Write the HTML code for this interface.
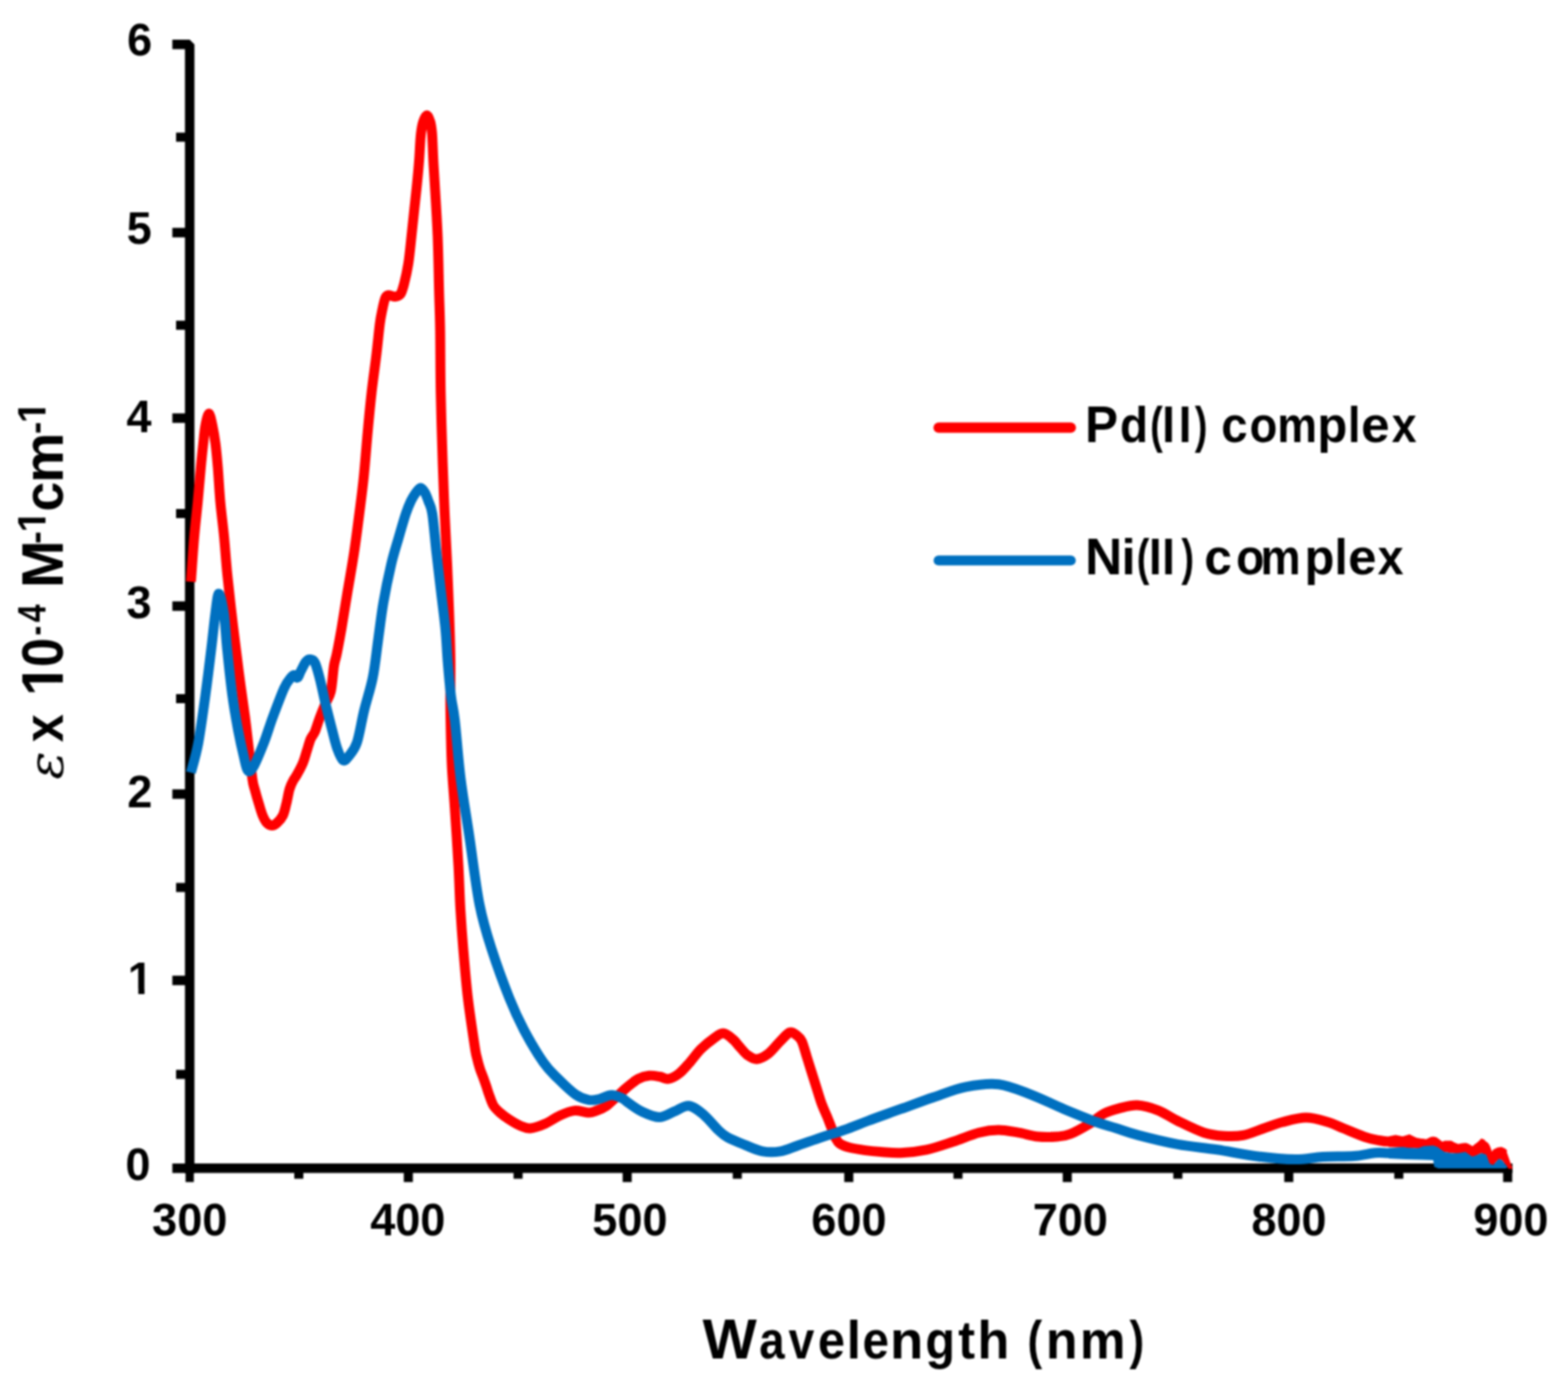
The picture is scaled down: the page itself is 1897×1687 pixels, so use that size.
<!DOCTYPE html>
<html><head><meta charset="utf-8"><title>Absorption spectra</title><style>
html,body{margin:0;padding:0;background:#fff;overflow:hidden}
svg{display:block;filter:blur(0.85px)}
</style></head><body>
<svg xmlns="http://www.w3.org/2000/svg" width="1897" height="1687" viewBox="0 0 1897 1687">
<rect width="1897" height="1687" fill="#ffffff"/>
<path d="M208.5,53.8 H229.5 V1419.8" fill="none" stroke="#000" stroke-width="11.5" stroke-linejoin="bevel"/>
<line x1="223.5" y1="1413.8" x2="1829.8" y2="1413.8" stroke="#000" stroke-width="11.5"/>
<line x1="208.5" y1="1186.5" x2="229.5" y2="1186.5" stroke="#000" stroke-width="11.5"/>
<line x1="208.5" y1="961.0" x2="229.5" y2="961.0" stroke="#000" stroke-width="11.5"/>
<line x1="208.5" y1="733.5" x2="229.5" y2="733.5" stroke="#000" stroke-width="11.5"/>
<line x1="208.5" y1="506.0" x2="229.5" y2="506.0" stroke="#000" stroke-width="11.5"/>
<line x1="208.5" y1="281.5" x2="229.5" y2="281.5" stroke="#000" stroke-width="11.5"/>
<line x1="208.5" y1="1413.8" x2="229.5" y2="1413.8" stroke="#000" stroke-width="11.5"/>
<line x1="213" y1="1300.2" x2="229.5" y2="1300.2" stroke="#000" stroke-width="11"/>
<line x1="213" y1="1074.0" x2="229.5" y2="1074.0" stroke="#000" stroke-width="11"/>
<line x1="213" y1="845.5" x2="229.5" y2="845.5" stroke="#000" stroke-width="11"/>
<line x1="213" y1="621.5" x2="229.5" y2="621.5" stroke="#000" stroke-width="11"/>
<line x1="213" y1="393.6" x2="229.5" y2="393.6" stroke="#000" stroke-width="11"/>
<line x1="213" y1="166.0" x2="229.5" y2="166.0" stroke="#000" stroke-width="11"/>
<line x1="229.5" y1="1413.8" x2="229.5" y2="1430.5" stroke="#000" stroke-width="10"/>
<line x1="361.5" y1="1413.8" x2="361.5" y2="1426.5" stroke="#000" stroke-width="11"/>
<line x1="494.0" y1="1413.8" x2="494.0" y2="1430.5" stroke="#000" stroke-width="11"/>
<line x1="626.8" y1="1413.8" x2="626.8" y2="1426.5" stroke="#000" stroke-width="11"/>
<line x1="758.8" y1="1413.8" x2="758.8" y2="1430.5" stroke="#000" stroke-width="11"/>
<line x1="892.0" y1="1413.8" x2="892.0" y2="1426.5" stroke="#000" stroke-width="11"/>
<line x1="1026.9" y1="1413.8" x2="1026.9" y2="1430.5" stroke="#000" stroke-width="11"/>
<line x1="1159.0" y1="1413.8" x2="1159.0" y2="1426.5" stroke="#000" stroke-width="11"/>
<line x1="1291.2" y1="1413.8" x2="1291.2" y2="1430.5" stroke="#000" stroke-width="11"/>
<line x1="1425.0" y1="1413.8" x2="1425.0" y2="1426.5" stroke="#000" stroke-width="11"/>
<line x1="1559.2" y1="1413.8" x2="1559.2" y2="1430.5" stroke="#000" stroke-width="11"/>
<line x1="1692.3" y1="1413.8" x2="1692.3" y2="1426.5" stroke="#000" stroke-width="11"/>
<line x1="1824.0" y1="1413.8" x2="1824.0" y2="1430.5" stroke="#000" stroke-width="11"/>
<path d="M231.0,704.0 C231.7,695.1 233.5,666.7 234.9,650.7 C236.3,634.7 237.8,622.2 239.2,608.0 C240.5,593.8 241.9,577.1 243.0,565.3 C244.1,553.4 245.0,545.2 245.9,536.9 C246.8,528.6 247.3,521.6 248.4,515.6 C249.5,509.6 251.3,500.7 252.7,500.6 C254.1,500.5 255.7,508.9 257.0,515.0 C258.3,521.0 259.6,528.5 260.7,536.9 C261.8,545.3 262.5,553.4 263.5,565.3 C264.5,577.1 265.3,593.8 266.6,608.0 C267.9,622.2 269.8,635.9 271.2,650.7 C272.6,665.5 273.4,679.3 275.2,697.0 C277.0,714.7 279.6,737.4 281.9,756.9 C284.2,776.4 286.6,795.3 289.0,813.8 C291.4,832.3 294.6,853.6 296.5,868.0 C298.4,882.4 298.8,887.6 300.3,900.0 C301.8,912.4 304.0,933.2 305.3,942.5 C306.6,951.8 307.1,951.0 308.4,956.0 C309.7,961.0 311.6,967.6 313.2,972.8 C314.8,978.0 316.2,983.2 317.8,987.0 C319.4,990.8 320.7,993.5 322.5,995.5 C324.3,997.5 326.7,998.9 328.8,999.0 C330.9,999.1 332.8,998.0 335.0,996.0 C337.2,994.0 340.3,990.9 342.2,987.0 C344.1,983.1 345.0,978.1 346.4,972.8 C347.8,967.5 348.9,959.6 350.3,955.0 C351.7,950.4 352.9,948.0 354.5,945.0 C356.1,942.0 357.6,940.6 359.6,936.9 C361.6,933.2 364.8,927.5 366.7,922.7 C368.6,918.0 369.8,913.1 371.3,908.4 C372.8,903.6 374.3,898.0 375.9,894.2 C377.5,890.4 379.3,889.5 381.0,885.5 C382.7,881.5 384.3,875.4 386.3,870.0 C388.3,864.6 390.7,858.5 393.0,853.0 C395.3,847.5 398.4,844.8 400.2,837.0 C402.0,829.2 402.8,813.7 404.0,806.0 C405.2,798.3 406.0,798.6 407.5,791.0 C409.0,783.4 411.0,773.2 413.2,760.4 C415.4,747.6 418.2,729.5 420.8,714.1 C423.4,698.7 426.2,683.3 428.5,667.9 C430.8,652.5 432.8,636.7 434.7,621.7 C436.6,606.7 438.3,594.6 440.0,578.0 C441.7,561.4 443.3,539.4 444.9,522.2 C446.5,505.0 447.8,490.6 449.6,474.8 C451.4,459.0 454.0,441.2 455.6,427.4 C457.2,413.6 458.4,400.7 459.5,392.0 C460.6,383.3 461.4,380.2 462.5,375.0 C463.6,369.8 464.8,363.9 466.0,361.0 C467.2,358.1 468.0,357.6 470.0,357.3 C472.0,357.0 475.6,359.3 478.0,359.0 C480.4,358.7 482.9,358.3 484.7,355.6 C486.5,352.9 487.4,349.1 489.0,343.0 C490.6,336.9 492.5,328.5 494.0,319.0 C495.5,309.5 496.6,297.1 497.8,286.0 C499.0,274.9 500.1,263.8 501.3,252.7 C502.5,241.6 503.9,229.2 504.8,219.6 C505.8,210.0 506.4,202.9 507.0,195.0 C507.6,187.1 508.0,178.0 508.4,172.0 C508.8,166.0 509.0,163.1 509.6,159.0 C510.2,154.9 510.9,150.8 512.0,147.5 C513.1,144.2 515.1,139.5 516.5,139.5 C517.9,139.5 519.6,144.2 520.6,147.5 C521.6,150.8 522.0,154.9 522.5,159.0 C523.0,163.1 523.0,166.0 523.3,172.0 C523.6,178.0 523.9,187.1 524.3,195.0 C524.7,202.9 524.9,204.4 525.8,219.6 C526.7,234.8 528.6,263.9 529.5,286.0 C530.4,308.1 530.7,333.3 531.2,352.3 C531.7,371.3 532.2,379.6 532.5,400.0 C532.8,420.4 532.7,448.1 533.2,474.8 C533.7,501.5 534.8,535.5 535.6,560.0 C536.4,584.5 537.1,601.2 538.0,621.7 C538.9,642.2 540.1,662.5 541.0,683.0 C541.9,703.5 542.8,725.5 543.5,745.0 C544.2,764.5 544.8,782.5 545.0,800.0 C545.2,817.5 544.7,835.0 544.8,850.0 C544.9,865.0 545.2,876.7 545.5,890.0 C545.8,903.3 546.0,915.4 546.8,930.0 C547.6,944.6 548.9,958.0 550.2,977.8 C551.5,997.6 553.6,1028.5 554.7,1048.9 C555.8,1069.3 556.0,1083.4 557.0,1100.0 C558.0,1116.6 559.0,1130.8 560.5,1148.7 C562.0,1166.6 563.7,1187.8 566.0,1207.4 C568.3,1227.0 572.5,1254.0 574.3,1266.1 C576.1,1278.2 576.0,1275.5 577.0,1280.0 C578.0,1284.5 579.2,1288.8 580.5,1293.0 C581.8,1297.2 583.7,1301.3 585.0,1305.0 C586.3,1308.7 587.4,1311.8 588.5,1315.0 C589.6,1318.2 590.1,1320.4 591.5,1324.2 C592.9,1328.0 594.7,1334.2 597.0,1338.0 C599.3,1341.8 602.4,1344.2 605.5,1347.0 C608.6,1349.8 611.6,1351.9 615.6,1354.5 C619.6,1357.1 625.5,1360.7 629.8,1362.5 C634.1,1364.3 636.6,1365.9 641.5,1365.5 C646.4,1365.1 653.4,1362.7 659.3,1360.1 C665.2,1357.5 671.2,1352.8 677.1,1350.1 C683.0,1347.4 688.9,1344.7 694.8,1344.1 C700.6,1343.5 707.7,1346.4 712.2,1346.4 C716.7,1346.4 718.5,1345.2 722.0,1344.0 C725.5,1342.8 729.0,1341.7 733.0,1338.9 C737.0,1336.1 741.8,1331.1 746.1,1327.2 C750.5,1323.3 754.8,1319.0 759.1,1315.4 C763.5,1311.8 767.9,1307.9 772.2,1305.6 C776.6,1303.3 780.9,1302.1 785.2,1301.7 C789.6,1301.3 794.4,1302.3 798.3,1303.0 C802.2,1303.7 804.8,1306.2 808.7,1305.6 C812.6,1304.9 817.4,1302.5 821.7,1299.1 C826.1,1295.7 830.4,1290.3 834.8,1285.4 C839.1,1280.5 843.0,1274.6 847.8,1269.8 C852.6,1265.0 858.9,1259.9 863.5,1256.7 C868.1,1253.5 871.3,1250.4 875.2,1250.6 C879.1,1250.8 883.8,1255.4 887.0,1258.0 C890.2,1260.6 891.3,1263.0 894.2,1266.1 C897.1,1269.2 900.6,1274.2 904.2,1276.8 C907.8,1279.4 911.3,1282.0 915.6,1281.7 C919.9,1281.4 925.1,1278.6 929.8,1275.0 C934.5,1271.4 939.7,1264.2 944.0,1260.0 C948.3,1255.8 952.1,1250.7 955.4,1249.5 C958.7,1248.3 961.6,1251.2 964.0,1253.0 C966.4,1254.8 968.0,1255.7 970.0,1260.0 C972.0,1264.3 974.1,1272.7 976.1,1279.0 C978.1,1285.3 980.0,1291.6 982.0,1297.9 C984.0,1304.2 986.0,1310.6 988.0,1316.9 C990.0,1323.2 992.0,1330.2 994.1,1335.9 C996.2,1341.6 998.5,1346.2 1000.5,1351.0 C1002.5,1355.8 1004.3,1360.8 1006.0,1365.0 C1007.7,1369.2 1008.8,1373.3 1010.5,1376.5 C1012.2,1379.7 1013.1,1382.0 1016.0,1384.0 C1018.9,1386.0 1022.8,1387.5 1027.9,1388.8 C1033.1,1390.1 1040.6,1391.2 1046.9,1392.1 C1053.2,1393.0 1058.8,1393.5 1065.9,1394.0 C1073.0,1394.5 1080.3,1395.7 1089.5,1395.2 C1098.7,1394.8 1110.7,1393.5 1121.2,1391.3 C1131.8,1389.1 1142.3,1385.2 1152.8,1381.8 C1163.3,1378.4 1175.2,1373.1 1184.4,1370.7 C1193.6,1368.3 1200.3,1367.5 1208.2,1367.5 C1216.1,1367.5 1224.0,1369.4 1231.9,1370.7 C1239.8,1372.0 1247.7,1374.7 1255.6,1375.5 C1263.5,1376.3 1272.7,1376.0 1279.3,1375.5 C1285.9,1375.0 1288.5,1375.0 1295.1,1372.3 C1301.7,1369.6 1312.2,1363.6 1318.9,1359.6 C1325.6,1355.5 1329.2,1351.0 1335.0,1348.0 C1340.8,1345.0 1346.9,1343.2 1353.7,1341.4 C1360.5,1339.7 1368.0,1337.1 1375.9,1337.5 C1383.8,1337.9 1393.0,1340.6 1401.2,1343.8 C1409.4,1347.0 1415.7,1352.0 1424.9,1356.5 C1434.1,1361.0 1447.3,1367.7 1456.5,1370.7 C1465.7,1373.7 1472.3,1374.2 1480.2,1374.7 C1488.1,1375.2 1496.1,1375.4 1504.0,1373.9 C1511.9,1372.5 1519.8,1368.7 1527.7,1366.0 C1535.6,1363.3 1542.7,1360.2 1551.4,1358.0 C1560.1,1355.8 1570.8,1352.5 1580.0,1352.5 C1589.2,1352.5 1599.2,1355.8 1606.8,1358.0 C1614.3,1360.2 1618.0,1362.5 1625.3,1365.5 C1632.6,1368.5 1643.5,1373.3 1650.6,1375.7 C1657.7,1378.1 1663.1,1379.0 1668.0,1380.0 C1672.9,1381.0 1676.6,1381.5 1680.0,1381.6 C1683.4,1381.7 1685.6,1380.7 1688.4,1380.8 C1691.2,1380.9 1694.1,1382.0 1696.9,1382.0 C1699.7,1382.0 1702.5,1380.8 1705.3,1381.0 C1708.1,1381.2 1710.9,1382.8 1713.7,1383.3 C1716.5,1383.8 1720.1,1384.0 1722.2,1384.2 C1724.3,1384.4 1724.4,1385.0 1726.4,1384.6 C1728.4,1384.2 1731.9,1381.6 1734.0,1381.6 C1736.1,1381.6 1737.3,1383.4 1739.0,1384.6 C1740.7,1385.8 1742.7,1388.4 1744.1,1388.8 C1745.5,1389.2 1745.5,1387.2 1747.5,1387.1 C1749.5,1387.0 1753.1,1387.4 1755.9,1388.0 C1758.7,1388.6 1761.5,1390.3 1764.3,1390.5 C1767.1,1390.7 1770.0,1388.6 1772.8,1389.2 C1775.6,1389.8 1779.0,1393.6 1781.2,1393.9 C1783.5,1394.2 1784.5,1392.1 1786.3,1390.9 C1788.1,1389.7 1790.5,1387.2 1792.2,1386.7 C1793.9,1386.2 1795.1,1386.2 1796.4,1388.0 C1797.7,1389.8 1798.7,1394.8 1799.8,1397.2 C1800.9,1399.7 1802.0,1402.1 1803.1,1402.7 C1804.2,1403.3 1805.1,1401.5 1806.5,1400.6 C1807.9,1399.7 1809.9,1398.1 1811.6,1397.2 C1813.3,1396.3 1815.1,1395.0 1816.6,1395.1 C1818.1,1395.1 1819.8,1397.1 1820.5,1397.5" fill="none" stroke="#ff0000" stroke-width="12" stroke-linejoin="round"/>
<polygon points="1680.0,1375.3 1688.4,1373.6 1696.9,1375.3 1705.3,1372.8 1713.7,1377.0 1722.2,1378.7 1726.4,1380.4 1734.0,1376.1 1739.0,1380.4 1744.1,1385.4 1747.5,1380.4 1755.9,1380.4 1764.3,1385.4 1772.8,1384.6 1781.2,1388.0 1786.3,1383.7 1792.2,1377.8 1796.4,1379.5 1799.8,1392.2 1803.1,1397.2 1806.5,1391.3 1811.6,1388.8 1816.6,1388.0 1821.7,1390.5 1823.5,1396.0 1827.0,1406.0 1830.0,1414.5 1825.0,1414.5 1822.5,1410.7 1817.2,1404.0 1813.3,1402.3 1810.3,1405.7 1806.5,1409.9 1802.3,1408.2 1798.1,1397.2 1792.2,1395.5 1786.3,1398.1 1781.2,1399.8 1772.8,1393.9 1764.3,1395.5 1755.9,1395.5 1747.5,1393.9 1739.0,1388.0 1734.0,1387.1 1722.2,1389.6 1713.7,1389.6 1696.9,1388.8 1680.0,1388.0" fill="#ff0000"/>
<path d="M231.0,935.0 C232.5,929.0 237.0,914.6 239.9,899.1 C242.8,883.6 245.8,861.2 248.4,842.2 C251.0,823.2 253.6,801.9 255.6,785.3 C257.6,768.7 259.0,753.8 260.5,742.7 C262.0,731.6 263.1,718.5 264.8,718.5 C266.5,718.5 269.2,731.6 270.9,742.7 C272.6,753.8 273.1,768.7 274.8,785.3 C276.5,801.9 278.9,825.6 281.2,842.2 C283.4,858.8 286.1,872.9 288.3,884.9 C290.6,896.9 292.8,906.5 294.7,914.4 C296.6,922.2 297.6,929.6 299.5,932.0 C301.4,934.4 302.7,934.5 306.0,929.0 C309.3,923.5 315.3,908.9 319.3,898.7 C323.3,888.5 325.9,879.0 330.0,868.0 C334.1,857.0 340.2,840.4 343.9,832.4 C347.6,824.4 350.0,822.6 352.0,820.0 C354.0,817.4 354.7,817.0 356.0,817.0 C357.3,817.0 358.7,820.8 360.0,820.0 C361.3,819.2 362.3,815.2 364.0,812.0 C365.7,808.8 368.2,803.3 370.0,801.0 C371.8,798.7 373.2,797.8 375.0,798.0 C376.8,798.2 379.0,798.0 381.0,802.0 C383.0,806.0 384.8,813.3 387.0,821.7 C389.2,830.1 391.5,842.2 394.0,852.5 C396.5,862.8 399.5,874.4 401.8,883.3 C404.1,892.2 405.8,899.9 408.0,906.0 C410.2,912.1 412.6,918.5 414.9,920.0 C417.2,921.5 419.2,918.5 422.0,915.0 C424.8,911.5 428.7,907.9 431.8,898.7 C434.9,889.5 437.3,873.1 440.5,860.0 C443.7,846.9 448.2,834.0 451.0,820.0 C453.8,806.0 455.2,790.9 457.3,775.8 C459.4,760.7 461.2,745.0 463.8,729.6 C466.4,714.2 470.2,696.1 473.2,683.3 C476.2,670.4 478.8,662.8 481.8,652.5 C484.8,642.2 488.4,629.4 491.0,621.7 C493.6,614.0 495.2,610.4 497.2,606.2 C499.2,602.0 501.1,599.1 503.0,596.5 C504.9,593.9 507.1,590.6 508.9,590.5 C510.7,590.4 512.4,593.2 514.0,596.0 C515.6,598.8 517.0,602.7 518.5,607.0 C520.0,611.3 521.4,611.6 523.0,621.7 C524.6,631.9 526.2,652.5 527.9,667.9 C529.6,683.3 531.5,698.7 533.3,714.1 C535.1,729.5 537.4,746.1 538.8,760.4 C540.2,774.7 540.5,786.4 541.6,800.0 C542.7,813.6 544.2,830.4 545.6,842.2 C547.0,854.1 548.2,854.4 550.2,871.1 C552.2,887.8 554.3,918.5 557.3,942.2 C560.3,965.9 564.2,987.8 568.0,1013.3 C571.8,1038.8 575.7,1072.4 580.2,1095.0 C584.7,1117.6 588.8,1130.0 594.8,1148.7 C600.8,1167.4 609.5,1191.1 616.0,1207.4 C622.5,1223.7 627.1,1233.5 634.0,1246.6 C640.9,1259.6 650.6,1275.9 657.4,1285.7 C664.2,1295.5 668.5,1298.8 675.0,1305.3 C681.5,1311.8 690.4,1320.5 696.6,1324.8 C702.8,1329.1 707.5,1330.2 712.2,1331.1 C716.9,1332.0 720.4,1331.0 725.0,1330.0 C729.6,1329.0 735.0,1325.4 739.6,1325.2 C744.2,1325.0 749.3,1327.5 752.6,1329.0 C755.9,1330.5 755.2,1331.2 759.3,1334.0 C763.4,1336.8 770.7,1342.5 777.1,1345.5 C783.5,1348.5 791.4,1352.0 797.8,1352.0 C804.2,1352.0 809.7,1347.5 815.6,1345.2 C821.5,1342.9 827.4,1337.6 833.3,1338.2 C839.2,1338.8 845.2,1343.9 851.1,1348.8 C857.0,1353.7 864.1,1362.9 868.9,1367.5 C873.7,1372.1 874.6,1373.2 880.0,1376.2 C885.4,1379.2 894.2,1382.7 901.3,1385.6 C908.4,1388.5 915.6,1392.1 922.7,1393.4 C929.8,1394.7 936.9,1394.6 944.0,1393.4 C951.1,1392.2 957.1,1389.1 965.4,1386.3 C973.7,1383.5 984.3,1379.6 993.8,1376.4 C1003.3,1373.2 1012.9,1370.4 1022.3,1367.1 C1031.7,1363.8 1038.8,1360.7 1050.0,1356.5 C1061.2,1352.3 1076.3,1347.0 1089.5,1342.2 C1102.7,1337.5 1115.9,1332.5 1129.1,1328.0 C1142.3,1323.5 1155.4,1318.0 1168.6,1315.4 C1181.8,1312.8 1195.0,1310.6 1208.2,1312.2 C1221.4,1313.8 1234.5,1319.8 1247.7,1324.8 C1260.9,1329.8 1274.0,1336.7 1287.2,1342.2 C1300.4,1347.7 1316.3,1354.2 1326.8,1358.0 C1337.3,1361.8 1341.6,1362.5 1350.0,1365.2 C1358.4,1367.9 1364.9,1370.6 1377.4,1373.9 C1389.9,1377.2 1409.1,1382.0 1424.9,1384.9 C1440.7,1387.8 1456.5,1388.9 1472.3,1391.3 C1488.1,1393.7 1504.0,1397.2 1519.8,1399.2 C1535.6,1401.2 1553.8,1403.0 1567.2,1403.1 C1580.6,1403.2 1588.2,1400.7 1600.0,1400.0 C1611.8,1399.3 1627.5,1399.8 1638.0,1399.0 C1648.5,1398.2 1656.3,1395.9 1663.3,1395.3 C1670.3,1394.7 1673.9,1395.5 1680.0,1395.5 C1686.1,1395.5 1693.3,1395.0 1700.0,1395.0 C1706.7,1395.0 1713.7,1395.5 1720.0,1395.5 C1726.3,1395.5 1735.0,1395.1 1738.0,1395.0" fill="none" stroke="#0070c0" stroke-width="12" stroke-linejoin="round"/>
<polygon points="1680.0,1389.6 1696.9,1388.0 1713.7,1390.5 1722.2,1387.1 1734.0,1386.3 1739.0,1388.0 1747.5,1393.9 1755.9,1395.5 1764.3,1395.5 1772.8,1393.9 1781.2,1399.8 1786.3,1398.1 1792.2,1395.5 1798.1,1397.2 1802.3,1408.2 1806.5,1409.9 1810.3,1405.7 1813.3,1402.3 1817.2,1404.0 1822.5,1410.7 1824.0,1412.0 1822.0,1414.0 1740.0,1414.0 1735.0,1412.0 1734.0,1404.0 1720.0,1403.5 1700.0,1403.0 1680.0,1402.0" fill="#0070c0"/>
<text transform="translate(0,1428) scale(1,1.03)" x="151.7" y="0" font-family="'Liberation Sans', Arial, Helvetica, sans-serif" font-weight="bold" font-size="54.5">0</text>
<text transform="translate(0,1203) scale(1,1.03)" x="154.6" y="0" font-family="'Liberation Sans', Arial, Helvetica, sans-serif" font-weight="bold" font-size="54.5">1</text>
<text transform="translate(0,976.5) scale(1,1.03)" x="154.0" y="0" font-family="'Liberation Sans', Arial, Helvetica, sans-serif" font-weight="bold" font-size="54.5">2</text>
<text transform="translate(0,747.5) scale(1,1.03)" x="152.9" y="0" font-family="'Liberation Sans', Arial, Helvetica, sans-serif" font-weight="bold" font-size="54.5">3</text>
<text transform="translate(0,523) scale(1,1.03)" x="153.0" y="0" font-family="'Liberation Sans', Arial, Helvetica, sans-serif" font-weight="bold" font-size="54.5">4</text>
<text transform="translate(0,295) scale(1,1.03)" x="153.3" y="0" font-family="'Liberation Sans', Arial, Helvetica, sans-serif" font-weight="bold" font-size="54.5">5</text>
<text transform="translate(0,67.3) scale(1,1.03)" x="153.8" y="0" font-family="'Liberation Sans', Arial, Helvetica, sans-serif" font-weight="bold" font-size="54.5">6</text>
<text transform="translate(0,1495.3) scale(1,1.03)" x="184.1" y="0" font-family="'Liberation Sans', Arial, Helvetica, sans-serif" font-weight="bold" font-size="54.5">300</text>
<text transform="translate(0,1495.3) scale(1,1.03)" x="447.9" y="0" font-family="'Liberation Sans', Arial, Helvetica, sans-serif" font-weight="bold" font-size="54.5">400</text>
<text transform="translate(0,1495.3) scale(1,1.03)" x="716.6" y="0" font-family="'Liberation Sans', Arial, Helvetica, sans-serif" font-weight="bold" font-size="54.5">500</text>
<text transform="translate(0,1495.3) scale(1,1.03)" x="981.6" y="0" font-family="'Liberation Sans', Arial, Helvetica, sans-serif" font-weight="bold" font-size="54.5">600</text>
<text transform="translate(0,1495.3) scale(1,1.03)" x="1249.4" y="0" font-family="'Liberation Sans', Arial, Helvetica, sans-serif" font-weight="bold" font-size="54.5">700</text>
<text transform="translate(0,1495.3) scale(1,1.03)" x="1514.0" y="0" font-family="'Liberation Sans', Arial, Helvetica, sans-serif" font-weight="bold" font-size="54.5">800</text>
<text transform="translate(0,1495.3) scale(1,1.03)" x="1782.5" y="0" font-family="'Liberation Sans', Arial, Helvetica, sans-serif" font-weight="bold" font-size="54.5">900</text>
<line x1="1135.5" y1="517.6" x2="1295.5" y2="517.6" stroke="#ff0000" stroke-width="12.5" stroke-linecap="round"/>
<line x1="1135.5" y1="678.2" x2="1295.5" y2="678.2" stroke="#0070c0" stroke-width="12" stroke-linecap="round"/>
<text y="535.2" font-family="'Liberation Sans', Arial, Helvetica, sans-serif" font-weight="bold" font-size="61"><tspan x="1312.80" font-size="63.44" textLength="39.84" lengthAdjust="spacingAndGlyphs">P</tspan><tspan x="1355.12" textLength="33.94" lengthAdjust="spacingAndGlyphs">d</tspan><tspan x="1391.52" textLength="15.24" lengthAdjust="spacingAndGlyphs">(</tspan><tspan x="1405.88" font-size="63.44" textLength="15.43" lengthAdjust="spacingAndGlyphs">I</tspan><tspan x="1425.88" font-size="63.44" textLength="15.43" lengthAdjust="spacingAndGlyphs">I</tspan><tspan x="1445.46" textLength="15.24" lengthAdjust="spacingAndGlyphs">)</tspan> <tspan x="1477.46" textLength="31.92" lengthAdjust="spacingAndGlyphs">c</tspan><tspan x="1511.85" textLength="33.60" lengthAdjust="spacingAndGlyphs">o</tspan><tspan x="1545.33" textLength="48.12" lengthAdjust="spacingAndGlyphs">m</tspan><tspan x="1593.79" textLength="36.25" lengthAdjust="spacingAndGlyphs">p</tspan><tspan x="1630.78" textLength="15.19" lengthAdjust="spacingAndGlyphs">l</tspan><tspan x="1646.68" textLength="34.43" lengthAdjust="spacingAndGlyphs">e</tspan><tspan x="1683.63" textLength="30.07" lengthAdjust="spacingAndGlyphs">x</tspan></text>
<text y="695.3" font-family="'Liberation Sans', Arial, Helvetica, sans-serif" font-weight="bold" font-size="61"><tspan x="1312.84" font-size="63.44" textLength="44.96" lengthAdjust="spacingAndGlyphs">N</tspan><tspan x="1356.77" textLength="17.21" lengthAdjust="spacingAndGlyphs">i</tspan><tspan x="1375.32" textLength="15.24" lengthAdjust="spacingAndGlyphs">(</tspan><tspan x="1389.88" font-size="63.44" textLength="15.43" lengthAdjust="spacingAndGlyphs">I</tspan><tspan x="1405.98" font-size="63.44" textLength="15.43" lengthAdjust="spacingAndGlyphs">I</tspan><tspan x="1429.16" textLength="15.34" lengthAdjust="spacingAndGlyphs">)</tspan> <tspan x="1457.06" textLength="33.29" lengthAdjust="spacingAndGlyphs">c</tspan><tspan x="1495.61" textLength="34.17" lengthAdjust="spacingAndGlyphs">o</tspan><tspan x="1525.01" textLength="48.47" lengthAdjust="spacingAndGlyphs">m</tspan><tspan x="1578.20" textLength="36.12" lengthAdjust="spacingAndGlyphs">p</tspan><tspan x="1614.38" textLength="16.00" lengthAdjust="spacingAndGlyphs">l</tspan><tspan x="1631.09" textLength="34.32" lengthAdjust="spacingAndGlyphs">e</tspan><tspan x="1666.72" textLength="31.30" lengthAdjust="spacingAndGlyphs">x</tspan></text>
<text y="1643.5" font-family="'Liberation Sans', Arial, Helvetica, sans-serif" font-weight="bold" font-size="65"><tspan x="849.93" font-size="67.60" textLength="65.54" lengthAdjust="spacingAndGlyphs">W</tspan><tspan x="918.38" textLength="30.77" lengthAdjust="spacingAndGlyphs">a</tspan><tspan x="953.98" textLength="31.17" lengthAdjust="spacingAndGlyphs">v</tspan><tspan x="989.49" textLength="32.82" lengthAdjust="spacingAndGlyphs">e</tspan><tspan x="1024.32" textLength="17.41" lengthAdjust="spacingAndGlyphs">l</tspan><tspan x="1043.45" textLength="32.02" lengthAdjust="spacingAndGlyphs">e</tspan><tspan x="1076.75" textLength="40.35" lengthAdjust="spacingAndGlyphs">n</tspan><tspan x="1119.49" textLength="35.95" lengthAdjust="spacingAndGlyphs">g</tspan><tspan x="1159.35" textLength="20.40" lengthAdjust="spacingAndGlyphs">t</tspan><tspan x="1182.48" textLength="38.64" lengthAdjust="spacingAndGlyphs">h</tspan> <tspan x="1243.04" textLength="17.82" lengthAdjust="spacingAndGlyphs">(</tspan><tspan x="1265.25" textLength="38.45" lengthAdjust="spacingAndGlyphs">n</tspan><tspan x="1306.61" textLength="55.13" lengthAdjust="spacingAndGlyphs">m</tspan><tspan x="1366.45" textLength="17.82" lengthAdjust="spacingAndGlyphs">)</tspan></text>
<text transform="translate(75.5,943) rotate(-90)" y="0" font-family="'Liberation Sans', Arial, Helvetica, sans-serif" font-size="68" font-weight="bold"><tspan font-family="'DejaVu Serif', serif" font-style="italic" font-weight="normal" y="0" x="-0.41" font-size="58.00" textLength="34.14" lengthAdjust="spacingAndGlyphs">ε</tspan> <tspan x="44.68" textLength="33.96" lengthAdjust="spacingAndGlyphs">x</tspan> <tspan x="100.74" y="0" font-size="70.72">1</tspan><tspan y="0" x="135.79" font-size="70.72" textLength="35.32" lengthAdjust="spacingAndGlyphs">0</tspan><tspan y="-18.0" x="173.95" font-size="46.00" textLength="11.49" lengthAdjust="spacingAndGlyphs">-</tspan><tspan y="-20.6" x="189.92" font-size="47.84" textLength="21.49" lengthAdjust="spacingAndGlyphs">4</tspan> <tspan y="0" x="231.38" font-size="70.72" textLength="57.54" lengthAdjust="spacingAndGlyphs">M</tspan><tspan y="-18.0" x="284.78" font-size="46.00" textLength="15.48" lengthAdjust="spacingAndGlyphs">-</tspan><tspan x="298.85" y="-20.6" font-size="47.84">1</tspan><tspan y="0" x="323.99" textLength="35.80" lengthAdjust="spacingAndGlyphs">c</tspan><tspan y="0" x="358.59" textLength="60.86" lengthAdjust="spacingAndGlyphs">m</tspan><tspan y="-18.0" x="417.75" font-size="46.00" textLength="14.95" lengthAdjust="spacingAndGlyphs">-</tspan><tspan x="431.05" y="-20.6" font-size="47.84">1</tspan></text>
<g transform="translate(75.5,943) rotate(-90)" fill="#fff"><rect x="104.20" y="-7.82" width="13.05" height="9.32"/><rect x="126.95" y="-7.82" width="12.15" height="9.32"/><rect x="300.87" y="-26.08" width="9.15" height="6.98"/><rect x="316.58" y="-26.08" width="8.55" height="6.98"/><rect x="433.07" y="-26.08" width="9.15" height="6.98"/><rect x="448.78" y="-26.08" width="8.55" height="6.98"/></g>
<g fill="#fff"><rect x="157.07" y="1196.67" width="10.29" height="7.33"/><rect x="174.84" y="1196.67" width="9.60" height="7.33"/></g>
</svg>
</body></html>
